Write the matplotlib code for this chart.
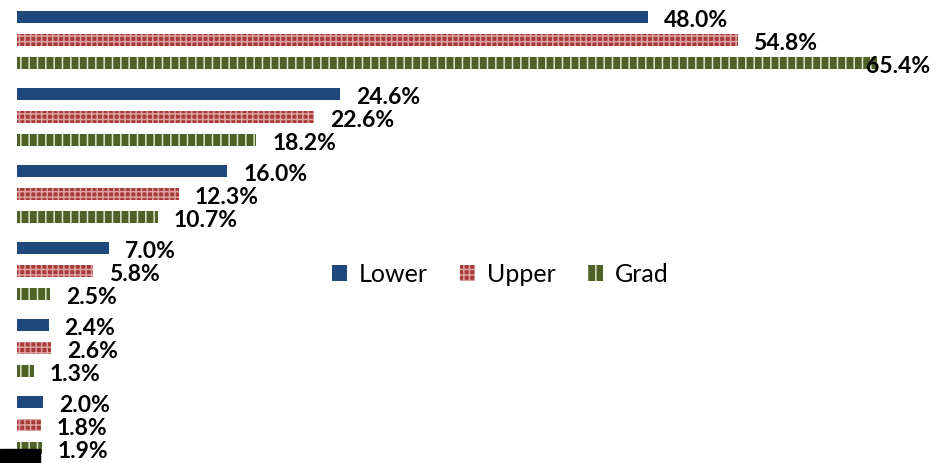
import numpy as np
import matplotlib.pyplot as plt
from matplotlib.patches import Rectangle

plt.rcParams['font.family'] = ['Lato', 'DejaVu Sans']
plt.rcParams['hatch.linewidth'] = 1.1

# data, top group first
groups = ['G1', 'G2', 'G3', 'G4', 'G5', 'G6']
series = ['Lower', 'Upper', 'Grad']
lower = [48.0, 24.6, 16.0, 7.0, 2.4, 2.0]
upper = [54.8, 22.6, 12.3, 5.8, 2.6, 1.8]
grad = [65.4, 18.2, 10.7, 2.5, 1.3, 1.9]

styles = {
    'Lower': dict(color='#1f497d', hatch=None, edge='#1f497d'),
    'Upper': dict(color='#a83b3a', hatch='+++', edge='#dca3a2'),
    'Grad': dict(color='#4f6228', hatch='||', edge='#dfe8c8'),
}

fig = plt.figure(figsize=(9.49, 4.64), dpi=100)
ax = fig.add_axes([17 / 949, 0, 1 - 17 / 949, 1])

gap = 77 / 23  # group pitch in bar-slot units
ypos = np.arange(len(groups)) * gap
h = 12 / 23

for k, (name, vals) in enumerate(zip(series, [lower, upper, grad])):
    st = styles[name]
    ax.barh(ypos + k, vals, height=h, color=st['color'], hatch=st['hatch'],
            edgecolor=st['edge'], linewidth=0, label=name)
    for y, v in zip(ypos + k, vals):
        ax.text(min(v + 1.2, 64.6), y + 0.1, f'{v:.1f}%', va='center', ha='left',
                fontsize=16.5, fontweight='bold', color='black')

ax.set_xlim(0, (949 - 17) / 13.15)
ax.set_ylim((464 - 18) / 23, -18 / 23)
ax.axis('off')

fig.legend(loc='center', bbox_to_anchor=(500 / 949, 1 - 275 / 464), ncol=3,
           frameon=False, fontsize=18, handlelength=0.62, handleheight=0.62,
           columnspacing=1.3, handletextpad=0.45)

fig.patches.append(Rectangle((0, 0), 40 / 949, 14 / 464, transform=fig.transFigure,
                             color='black', zorder=10))

fig.savefig('out.png', dpi=100)
